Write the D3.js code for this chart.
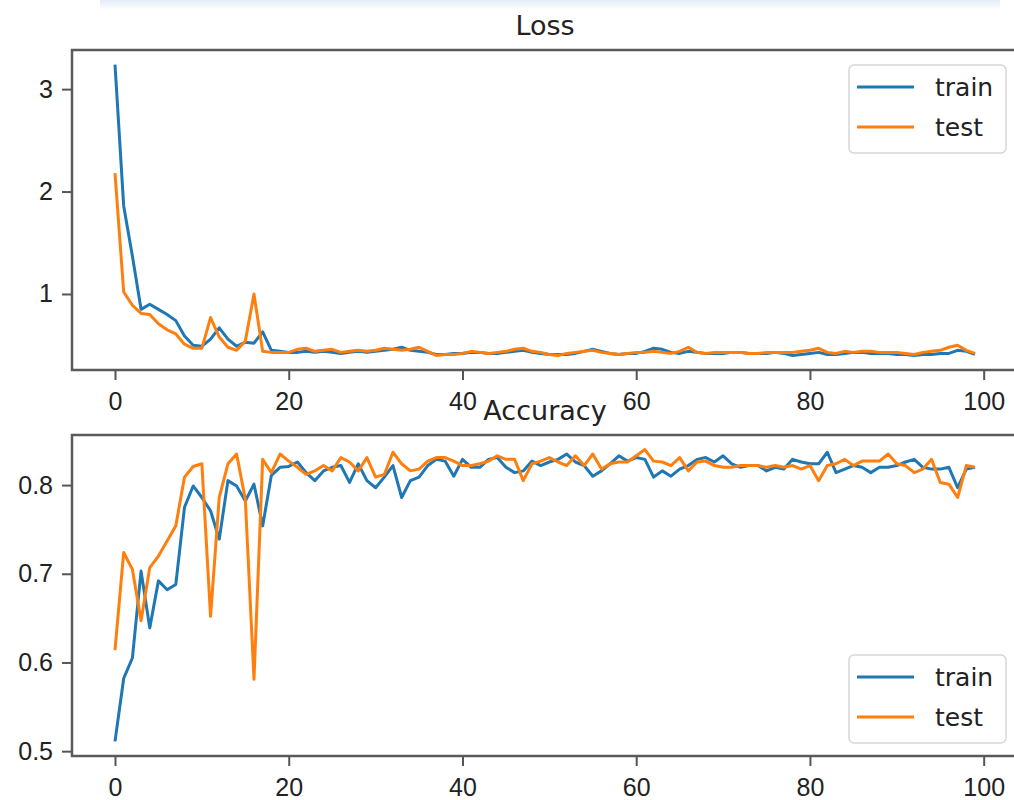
<!DOCTYPE html>
<html>
<head>
<meta charset="utf-8">
<script src="https://cdn.jsdelivr.net/npm/d3@7"></script>
<style>
  body { margin: 0; background: #fff; }
  svg { display: block; font-family: "DejaVu Sans", sans-serif; }
  .tick text { fill: #222; font-size: 25px; }
  .tick line { stroke: #555; stroke-width: 2; }
  .domain { display: none; }
</style>
</head>
<body>
<div id="chart-container"></div>
<script>
// per-epoch values
const trainLoss = [
  3.24,1.86,1.37,0.85,0.90,0.85,0.80,0.74,0.59,0.50,
  0.49,0.56,0.67,0.56,0.49,0.53,0.52,0.63,0.45,0.44,
  0.43,0.43,0.44,0.43,0.44,0.43,0.42,0.43,0.44,0.43,
  0.44,0.45,0.46,0.48,0.45,0.44,0.43,0.41,0.41,0.42,
  0.42,0.43,0.43,0.42,0.42,0.43,0.44,0.45,0.43,0.42,
  0.41,0.41,0.41,0.42,0.44,0.46,0.44,0.42,0.41,0.42,
  0.42,0.44,0.47,0.46,0.43,0.42,0.44,0.43,0.42,0.42,
  0.42,0.43,0.43,0.42,0.42,0.42,0.43,0.42,0.40,0.41,
  0.42,0.43,0.41,0.41,0.42,0.43,0.43,0.42,0.42,0.42,
  0.41,0.41,0.40,0.41,0.41,0.42,0.42,0.45,0.44,0.41
];
const testLoss = [
  2.18,1.02,0.89,0.81,0.80,0.71,0.65,0.61,0.51,0.47,
  0.47,0.77,0.58,0.48,0.45,0.54,1.00,0.44,0.43,0.43,
  0.43,0.46,0.47,0.44,0.45,0.46,0.43,0.44,0.45,0.44,
  0.45,0.47,0.46,0.45,0.46,0.48,0.44,0.40,0.41,0.41,
  0.42,0.44,0.43,0.42,0.43,0.44,0.46,0.47,0.44,0.43,
  0.41,0.40,0.42,0.43,0.44,0.45,0.43,0.42,0.41,0.42,
  0.43,0.43,0.44,0.43,0.42,0.44,0.48,0.43,0.42,0.43,
  0.43,0.43,0.43,0.42,0.42,0.43,0.43,0.43,0.43,0.44,
  0.45,0.47,0.43,0.42,0.44,0.43,0.44,0.44,0.43,0.43,
  0.43,0.42,0.41,0.43,0.44,0.45,0.48,0.50,0.45,0.42
];
const trainAcc = [
  0.511,0.582,0.605,0.703,0.639,0.692,0.682,0.688,0.775,0.799,
  0.786,0.771,0.739,0.805,0.799,0.782,0.801,0.754,0.811,0.820,
  0.821,0.826,0.814,0.805,0.816,0.820,0.822,0.803,0.824,0.805,
  0.797,0.809,0.822,0.786,0.805,0.809,0.822,0.829,0.827,0.810,
  0.829,0.820,0.820,0.829,0.831,0.820,0.814,0.816,0.827,0.822,
  0.826,0.829,0.835,0.826,0.822,0.810,0.816,0.824,0.833,0.827,
  0.831,0.829,0.809,0.816,0.810,0.818,0.822,0.829,0.831,0.826,
  0.833,0.824,0.820,0.822,0.822,0.816,0.820,0.818,0.829,0.826,
  0.824,0.824,0.837,0.814,0.818,0.822,0.820,0.814,0.820,0.820,
  0.822,0.826,0.829,0.820,0.818,0.818,0.820,0.797,0.818,0.820
];
const testAcc = [
  0.614,0.724,0.705,0.647,0.707,0.720,0.737,0.754,0.809,0.821,
  0.824,0.652,0.786,0.824,0.835,0.784,0.581,0.829,0.814,0.835,
  0.827,0.820,0.812,0.816,0.822,0.816,0.831,0.826,0.816,0.831,
  0.809,0.812,0.837,0.824,0.816,0.818,0.827,0.831,0.831,0.827,
  0.822,0.822,0.824,0.827,0.833,0.829,0.829,0.805,0.824,0.827,
  0.831,0.826,0.822,0.833,0.822,0.835,0.818,0.824,0.826,0.826,
  0.833,0.840,0.827,0.826,0.822,0.831,0.816,0.826,0.827,0.822,
  0.820,0.820,0.822,0.822,0.822,0.820,0.822,0.820,0.822,0.818,
  0.822,0.805,0.822,0.824,0.829,0.822,0.827,0.827,0.827,0.835,
  0.824,0.822,0.814,0.818,0.829,0.803,0.801,0.786,0.822,0.820
];
const seriesNames = ["train", "test"];
const xTicks = [0, 20, 40, 60, 80, 100];
const lossTicks = [1, 2, 3];
const accTicks = [0.5, 0.6, 0.7, 0.8];

const colors = ["#1f77b4", "#ff7f0e"];
const width = 1014, height = 800;

const svg = d3.select("#chart-container").append("svg")
  .attr("width", width)
  .attr("height", height);

// faint watermark band at the top of the screenshot
let grad = svg.append("defs").append("linearGradient")
  .attr("id", "wm").attr("x1", 0).attr("y1", 0).attr("x2", 0).attr("y2", 1);
grad.append("stop").attr("offset", "0%").attr("stop-color", "#e3ecf7");
grad.append("stop").attr("offset", "100%").attr("stop-color", "#ffffff");
svg.append("rect")
  .attr("x", 100).attr("y", 0)
  .attr("width", 900).attr("height", 10)
  .attr("fill", "url(#wm)");

// matplotlib style 5% padding on both axes
function padded(ext) {
  let pad = (ext[1] - ext[0]) * 0.05;
  return [ext[0] - pad, ext[1] + pad];
}

function drawPanel(opts) {
  let n = opts.series[0].length;
  let x = d3.scaleLinear()
    .domain(padded([0, n - 1]))
    .range([opts.left, opts.right]);

  let all = opts.series[0].concat(opts.series[1]);
  let y = d3.scaleLinear()
    .domain(padded(d3.extent(all)))
    .range([opts.bottom, opts.top]);

  let g = svg.append("g").attr("class", "panel");

  let line = d3.line()
    .x((d, i) => x(i))
    .y((d) => y(d));

  g.selectAll("path.series")
    .data(opts.series)
    .enter().append("path")
    .attr("class", "series")
    .attr("d", line)
    .attr("fill", "none")
    .attr("stroke", (d, i) => colors[i])
    .attr("stroke-width", 3)
    .attr("stroke-linejoin", "round");

  // frame
  g.append("rect")
    .attr("x", opts.left).attr("y", opts.top)
    .attr("width", opts.right - opts.left)
    .attr("height", opts.bottom - opts.top)
    .attr("fill", "none")
    .attr("stroke", "#5a5a5a")
    .attr("stroke-width", 2.5);

  g.append("g")
    .attr("transform", "translate(0," + opts.bottom + ")")
    .call(d3.axisBottom(x).tickValues(xTicks).tickSize(10).tickPadding(12)
      .tickFormat(d3.format("d")));

  g.append("g")
    .attr("transform", "translate(" + opts.left + ",0)")
    .call(d3.axisLeft(y).tickValues(opts.yTicks).tickSize(10).tickPadding(9)
      .tickFormat(opts.yFormat));

  g.append("text")
    .attr("x", (opts.left + opts.right) / 2)
    .attr("y", opts.top - 15)
    .attr("text-anchor", "middle")
    .attr("fill", "#222")
    .style("font-size", "27px")
    .text(opts.title);

  // legend
  let lg = g.append("g")
    .attr("transform", "translate(849," + opts.legendTop + ")");
  lg.append("rect")
    .attr("width", 157).attr("height", 88)
    .attr("rx", 5)
    .attr("fill", "#fff").attr("fill-opacity", 0.8)
    .attr("stroke", "#d6d6d6").attr("stroke-width", 1.5);
  let items = lg.selectAll("g.item")
    .data(seriesNames)
    .enter().append("g")
    .attr("class", "item")
    .attr("transform", (d, i) => "translate(0," + (22 + i * 40) + ")");
  items.append("line")
    .attr("x1", 8).attr("x2", 65)
    .attr("stroke", (d, i) => colors[i])
    .attr("stroke-width", 3);
  items.append("text")
    .attr("x", 86).attr("dy", "0.35em")
    .attr("fill", "#222")
    .style("font-size", "25px")
    .text((d) => d);
}

drawPanel({
  title: "Loss",
  series: [trainLoss, testLoss],
  left: 72, right: 1018, top: 50, bottom: 370,
  yTicks: lossTicks, yFormat: d3.format("d"),
  legendTop: 65
});

drawPanel({
  title: "Accuracy",
  series: [trainAcc, testAcc],
  left: 72, right: 1018, top: 435, bottom: 756,
  yTicks: accTicks, yFormat: d3.format(".1f"),
  legendTop: 655
});
</script>
</body>
</html>
